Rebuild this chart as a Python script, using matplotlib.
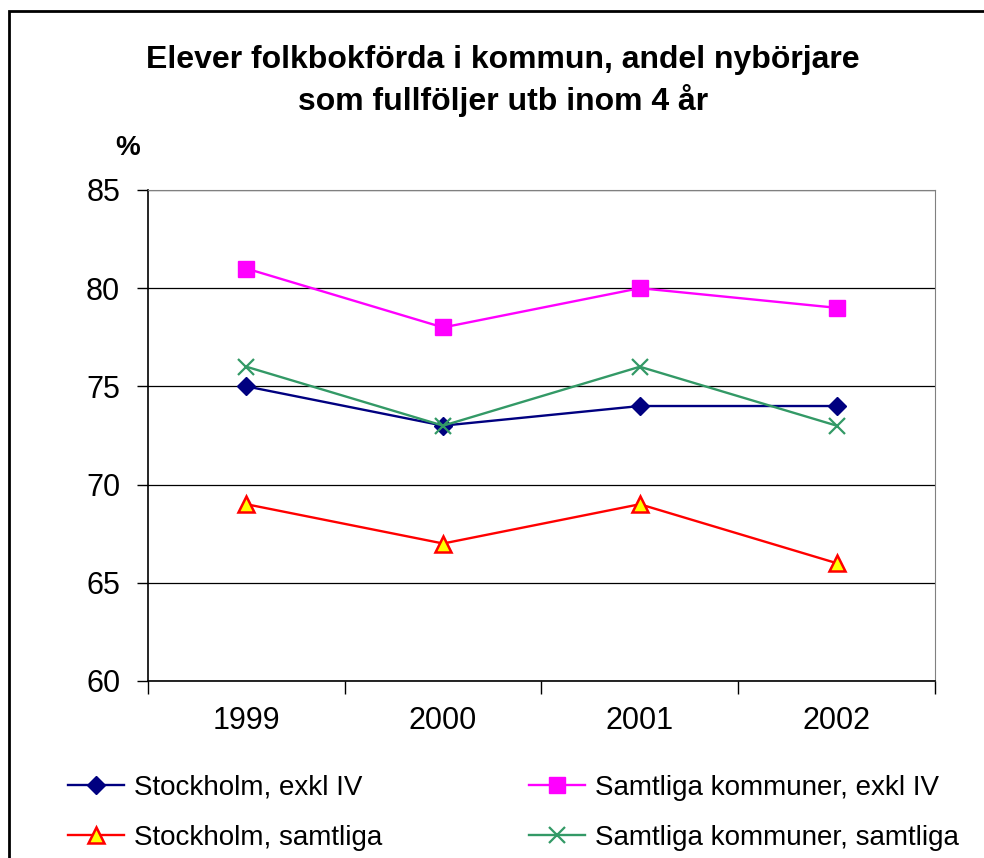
import matplotlib.pyplot as plt
from matplotlib.patches import Rectangle

plt.rcParams['font.family'] = ['Liberation Sans', 'DejaVu Sans']

years = ["1999", "2000", "2001", "2002"]
sthlm_exkl = [75, 73, 74, 74]
alla_exkl = [81, 78, 80, 79]
sthlm_samtliga = [69, 67, 69, 66]
alla_samtliga = [76, 73, 76, 73]
y_ticks = [60, 65, 70, 75, 80, 85]

fig = plt.figure(figsize=(9.84, 8.58), dpi=100)
ax = fig.add_axes([0.1504, 0.2063, 0.7998, 0.5723])

x = [i + 0.5 for i in range(len(years))]
l1, = ax.plot(x, sthlm_exkl, color="#000080", lw=1.7, marker="D", ms=9,
              mfc="#000080", mec="#000080", label="Stockholm, exkl IV")
l2, = ax.plot(x, alla_exkl, color="#FF00FF", lw=1.7, marker="s", ms=11,
              mfc="#FF00FF", mec="#FF00FF", label="Samtliga kommuner, exkl IV")
l3, = ax.plot(x, sthlm_samtliga, color="#FF0000", lw=1.7, marker="^", ms=11,
              mfc="#FFFF00", mec="#FF0000", mew=1.8, label="Stockholm, samtliga")
l4, = ax.plot(x, alla_samtliga, color="#339966", lw=1.7, marker="x", ms=11,
              mew=1.6, label="Samtliga kommuner, samtliga")

ax.set_xlim(0, len(years))
ax.set_ylim(60, 85)
ax.set_yticks(y_ticks)
ax.set_yticklabels([str(v) for v in y_ticks], fontsize=22)
ax.set_xticks(range(len(years) + 1))
ax.set_xticklabels([])
ax.set_xticks(x, minor=True)
ax.set_xticklabels(years, minor=True, fontsize=22)
ax.tick_params(axis="x", which="minor", length=0, pad=18)
ax.tick_params(axis="x", which="major", length=9, width=1, direction="out")
ax.tick_params(axis="y", length=8, width=1, direction="out", pad=12)
ax.grid(axis="y", color="black", lw=0.9)
for s in ("top", "right"):
    ax.spines[s].set_color("#808080")
for s in ("left", "bottom"):
    ax.spines[s].set_color("black")
    ax.spines[s].set_linewidth(1.2)

fig.text(0.511, 0.93, "Elever folkbokförda i kommun, andel nybörjare",
         ha="center", va="center", fontsize=23, fontweight="bold")
fig.text(0.511, 0.883, "som fullföljer utb inom 4 år",
         ha="center", va="center", fontsize=23, fontweight="bold")
fig.text(0.13, 0.827, "%", ha="center", va="center", fontsize=20, fontweight="bold")

# column-wise fill, so order handles to read row by row like the original
leg = fig.legend(handles=[l1, l3, l2, l4], loc="upper left",
                 bbox_to_anchor=(0.058, 0.11), ncol=2, frameon=False,
                 fontsize=20, handlelength=2.0, handletextpad=0.36,
                 columnspacing=5.3, labelspacing=0.88, borderaxespad=0)

fig.patches.append(Rectangle((0.0091, -0.1), 1.2, 1.0872, transform=fig.transFigure,
                             fill=False, edgecolor="black", lw=2))

fig.savefig("out.png", dpi=100)
